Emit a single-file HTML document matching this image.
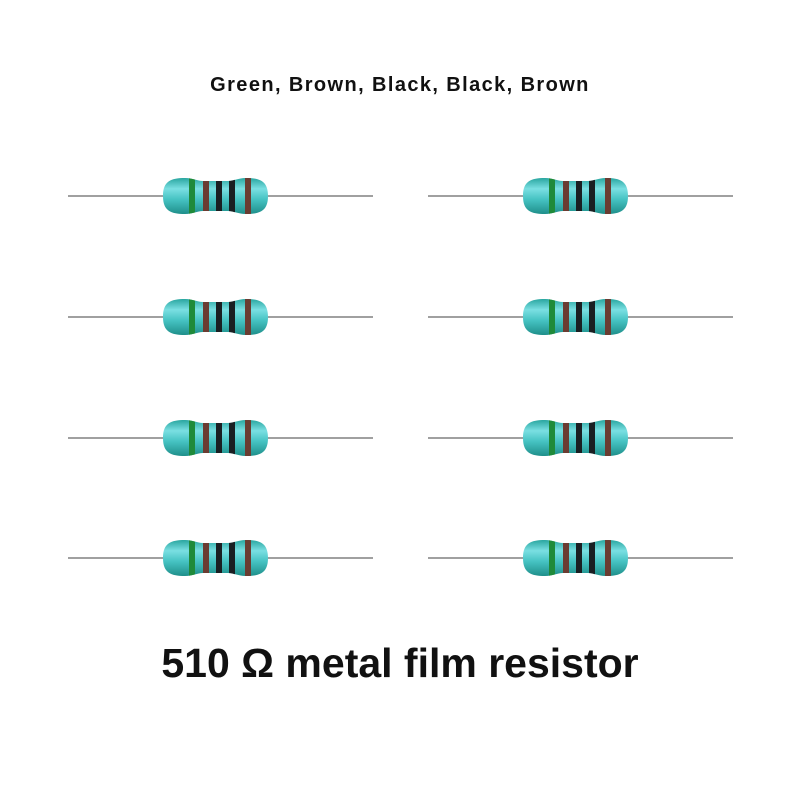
<!DOCTYPE html>
<html><head><meta charset="utf-8"><style>
html,body{margin:0;padding:0;background:#fff;width:800px;height:800px;overflow:hidden}
.t{position:absolute;left:0;width:800px;text-align:center;font-family:"Liberation Sans",sans-serif;font-weight:bold;color:#111}
</style></head><body>
<div class="t" style="top:74px;font-size:20px;letter-spacing:1.4px">Green, Brown, Black, Black, Brown</div>
<div class="t" style="top:640px;font-size:41px;letter-spacing:0px">510 Ω metal film resistor</div>
<svg width="800" height="800" style="position:absolute;left:0;top:0">
<defs>
<linearGradient id="g" x1="0" y1="0" x2="0" y2="1">
<stop offset="0" stop-color="#2aa6a0"/><stop offset="0.3" stop-color="#7adfe2"/><stop offset="0.6" stop-color="#45c2c2"/><stop offset="1" stop-color="#1f8f8a"/></linearGradient>
<clipPath id="c"><path d="M0,0 C0,-15 8,-18 22,-18 C30,-18 34,-15 40,-15 L65,-15 C71,-15 75,-18 83,-18 C97,-18 105,-15 105,0 C105,15 97,18 83,18 C75,18 71,15 65,15 L40,15 C34,15 30,18 22,18 C8,18 0,15 0,0Z"/></clipPath>
<g id="r">
<line x1="-95" y1="0" x2="210" y2="0" stroke="#a0a0a0" stroke-width="2"/>
<path d="M0,0 C0,-15 8,-18 22,-18 C30,-18 34,-15 40,-15 L65,-15 C71,-15 75,-18 83,-18 C97,-18 105,-15 105,0 C105,15 97,18 83,18 C75,18 71,15 65,15 L40,15 C34,15 30,18 22,18 C8,18 0,15 0,0Z" fill="url(#g)"/>
<g clip-path="url(#c)">
<rect x="26" y="-20" width="6" height="40" fill="#1f8a3a"/>
<rect x="40" y="-20" width="6" height="40" fill="#6a3c32"/>
<rect x="53" y="-20" width="6" height="40" fill="#1a1f22"/>
<rect x="66" y="-20" width="6" height="40" fill="#1a1f22"/>
<rect x="82" y="-20" width="6" height="40" fill="#6a3c32"/>
</g></g></defs>
<use href="#r" x="163" y="196"/><use href="#r" x="523" y="196"/>
<use href="#r" x="163" y="317"/><use href="#r" x="523" y="317"/>
<use href="#r" x="163" y="438"/><use href="#r" x="523" y="438"/>
<use href="#r" x="163" y="558"/><use href="#r" x="523" y="558"/>
</svg>
</body></html>
